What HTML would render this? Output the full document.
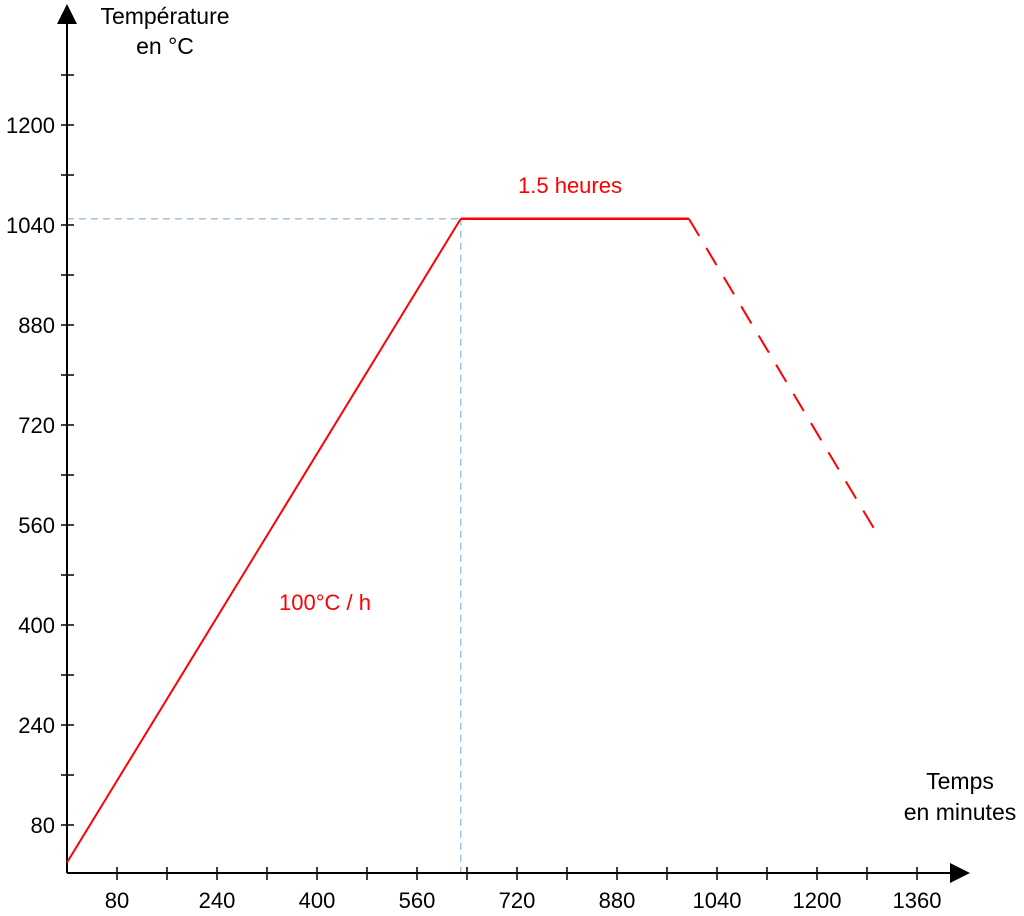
<!DOCTYPE html>
<html><head><meta charset="utf-8"><style>
html,body{margin:0;padding:0;background:#fff;width:1024px;height:916px;overflow:hidden}
svg text{font-family:"Liberation Sans",sans-serif}
</style></head><body>
<svg id="chart" width="1024" height="916" viewBox="0 0 1024 916" xmlns="http://www.w3.org/2000/svg">
<defs>
<marker id="arr" markerWidth="10" markerHeight="10" refX="5" refY="5" orient="auto"><path d="M0,0 L10,5 L0,10 Z" fill="#000"/></marker>
</defs>
<g id="g"></g>
</svg>
<script>
const xTicks=[80,240,400,560,720,880,1040,1200,1360];
const yTicks=[80,240,400,560,720,880,1040,1200];
const rampX=[0,630];const rampY=[20,1050];
const plateauX=[630,995];const plateauY=[1050,1050];
const coolX=[995,1292];const coolY=[1050,553];
const X=v=>67+v*0.625;
const Y=v=>875-v*0.625;
const g=document.getElementById('g');
const NS='http://www.w3.org/2000/svg';
function mk(t,a){const e=document.createElementNS(NS,t);for(const k in a)e.setAttribute(k,a[k]);g.appendChild(e);return e;}
let e;
e=mk('line',{x1:X(0),y1:Y(1050),x2:X(630),y2:Y(1050),stroke:'#9ec3df','stroke-width':1.5,'stroke-dasharray':'7,5'});


e=mk('line',{x1:X(630),y1:Y(1050),x2:X(630),y2:873,stroke:'#9ec3df','stroke-width':1.5,'stroke-dasharray':'7,5'});


e=mk('line',{x1:67,y1:873,x2:67,y2:14,stroke:'#000','stroke-width':2,'marker-end':'url(#arr)'});


e=mk('line',{x1:67,y1:873,x2:960,y2:873,stroke:'#000','stroke-width':2,'marker-end':'url(#arr)'});


for(let v=80;v<=1280;v+=80){e=mk('line',{x1:61,y1:Y(v),x2:74,y2:Y(v),stroke:'#000','stroke-width':1.5});

}
yTicks.forEach(v=>{e=mk('text',{x:55,y:Y(v)+8,'text-anchor':'end','font-size':22,fill:'#000'});e.textContent=v;

});
for(let v=80;v<=1360;v+=80){e=mk('line',{x1:X(v),y1:867,x2:X(v),y2:880,stroke:'#000','stroke-width':1.5});

}
xTicks.forEach(v=>{e=mk('text',{x:X(v),y:908,'text-anchor':'middle','font-size':22,fill:'#000'});e.textContent=v;

});
e=mk('line',{x1:X(rampX[0]),y1:Y(rampY[0]),x2:X(rampX[1]),y2:Y(rampY[1]),stroke:'#f00','stroke-width':2});


e=mk('line',{x1:X(plateauX[0]),y1:Y(plateauY[0]),x2:X(plateauX[1]),y2:Y(plateauY[1]),stroke:'#f00','stroke-width':2.5});


e=mk('line',{x1:X(coolX[0]),y1:Y(coolY[0]),x2:X(coolX[1]),y2:Y(coolY[1]),stroke:'#f00','stroke-width':2,'stroke-dasharray':'20,14'});


e=mk('text',{x:570,y:193,'text-anchor':'middle','font-size':22,fill:'#f00'});e.textContent='1.5 heures';


e=mk('text',{x:325,y:610,'text-anchor':'middle','font-size':22,fill:'#f00'});e.textContent='100°C / h';


e=mk('text',{x:165,y:24,'text-anchor':'middle','font-size':23,fill:'#000'});e.textContent='Température';


e=mk('text',{x:165,y:54,'text-anchor':'middle','font-size':23,fill:'#000'});e.textContent='en °C';


e=mk('text',{x:960,y:789,'text-anchor':'middle','font-size':23,fill:'#000'});e.textContent='Temps';


e=mk('text',{x:960,y:820,'text-anchor':'middle','font-size':23,fill:'#000'});e.textContent='en minutes';


</script>
</body></html>
